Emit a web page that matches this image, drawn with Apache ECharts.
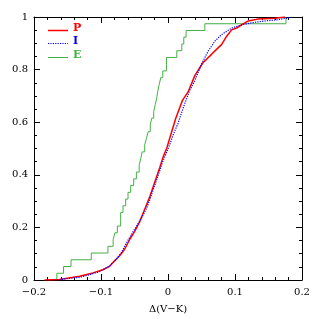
<!DOCTYPE html>
<html><head><meta charset="utf-8">
<script src="https://cdn.jsdelivr.net/npm/echarts@6/dist/echarts.min.js"></script>
<style>html,body{margin:0;padding:0;background:#fff}#c{width:319px;height:319px}</style>
</head><body><div id="c"></div>
<script>
// P sample curve (x = Δ(V−K), y = cumulative fraction)
const P_x = [-0.1843,-0.1619,-0.1320,-0.1121,-0.0971,-0.0871,-0.0796,-0.0722,-0.0647,-0.0572,-0.0497,-0.0422,-0.0373,-0.0322,-0.0273,-0.0224,-0.0173,-0.0123,-0.0070,-0.0020,0.0027,0.0116,0.0216,0.0300,0.0400,0.0524,0.0575,0.0650,0.0724,0.0799,0.0874,0.0949,0.1024,0.1098,0.1197,0.1347,0.1596,0.1746];
const P_y = [0,0.002,0.014,0.027,0.039,0.052,0.073,0.092,0.117,0.154,0.185,0.222,0.253,0.285,0.316,0.353,0.391,0.428,0.470,0.500,0.540,0.615,0.683,0.715,0.777,0.827,0.839,0.858,0.877,0.895,0.926,0.951,0.958,0.970,0.985,0.992,0.995,1.0];
// I sample curve
const I_x = [-0.1693,-0.1320,-0.1170,-0.1021,-0.0871,-0.0771,-0.0696,-0.0621,-0.0547,-0.0472,-0.0397,-0.0322,-0.0273,-0.0224,-0.0173,-0.0123,-0.0074,-0.0023,0.0027,0.0071,0.0150,0.0250,0.0325,0.0400,0.0500,0.0599,0.0699,0.0799,0.0949,0.1098,0.1297,0.1447,0.1622,0.178,0.187];
const I_y = [0,0.010,0.020,0.032,0.054,0.079,0.104,0.141,0.173,0.204,0.235,0.272,0.304,0.341,0.378,0.416,0.453,0.484,0.515,0.548,0.596,0.671,0.721,0.758,0.821,0.870,0.908,0.933,0.958,0.970,0.980,0.985,0.989,0.996,1.0];
// E sample: sorted Δ(V−K) values (empirical CDF steps)
const E_vals = [-0.1659,-0.1559,-0.1447,-0.1145,-0.0896,-0.0819,-0.0792,-0.0756,-0.0707,-0.0707,-0.0672,-0.0632,-0.0597,-0.0557,-0.0512,-0.0472,-0.0430,-0.0407,-0.0385,-0.0348,-0.0322,-0.0295,-0.0265,-0.0243,-0.0213,-0.0191,-0.0168,-0.0153,-0.0131,-0.0108,-0.0078,-0.0023,-0.0023,0.0131,0.0206,0.0236,0.0270,0.0550,0.1761];
const seriesNames = ['P','I','E'];
const seriesColors = ['#ff0000','#0000ff','#44b044'];
const xAxisName = 'Δ(V−K)';

const pData = P_x.map((x,i)=>[x,P_y[i]]);
const iData = I_x.map((x,i)=>[x,I_y[i]]);
const N = E_vals.length;
const eData = [[E_vals[0],0]].concat(E_vals.map((x,i)=>[x,(i+1)/N]));

const font = 'DejaVu Serif';
const fmtX = v => (Math.abs(v)<1e-9?'0':String(+v.toFixed(1))).replace('-','\u2212');
const axisCommon = {
  axisLine:{show:true,onZero:false,lineStyle:{color:'#000',width:1}},
  splitLine:{show:false},
};
const chart = echarts.init(document.getElementById('c'),null,{renderer:'canvas'});
chart.setOption({
  animation:false,
  backgroundColor:'#fff',
  grid:{left:34,top:17,width:268,height:268,containLabel:false},
  xAxis:[
    Object.assign({type:'value',position:'bottom',min:-0.2,max:0.2,interval:0.1,
      name:xAxisName,nameLocation:'middle',nameGap:24,
      nameTextStyle:{fontFamily:font,fontSize:10,color:'#000'},
      axisTick:{inside:true,length:6,lineStyle:{color:'#000'}},
      minorTick:{show:true,splitNumber:5,length:3,lineStyle:{color:'#000'}},
      axisLabel:{formatter:fmtX,fontFamily:font,fontSize:10,color:'#000',margin:7}},axisCommon),
    Object.assign({type:'value',position:'top',min:-0.2,max:0.2,interval:0.1,
      axisTick:{inside:true,length:6,lineStyle:{color:'#000'}},
      minorTick:{show:true,splitNumber:5,length:3,lineStyle:{color:'#000'}},
      axisLabel:{show:false}},axisCommon)
  ],
  yAxis:[
    Object.assign({type:'value',position:'left',min:0,max:1,interval:0.2,
      axisTick:{inside:true,length:6,lineStyle:{color:'#000'}},
      minorTick:{show:true,splitNumber:4,length:3,lineStyle:{color:'#000'}},
      axisLabel:{fontFamily:font,fontSize:10,color:'#000',margin:6}},axisCommon),
    Object.assign({type:'value',position:'right',min:0,max:1,interval:0.2,
      axisTick:{inside:true,length:6,lineStyle:{color:'#000'}},
      minorTick:{show:true,splitNumber:4,length:3,lineStyle:{color:'#000'}},
      axisLabel:{show:false}},axisCommon)
  ],
  series:[
    {name:seriesNames[2],type:'line',data:eData,step:'end',symbol:'none',
      lineStyle:{color:seriesColors[2],width:1},z:2},
    {name:seriesNames[0],type:'line',data:pData,symbol:'none',
      lineStyle:{color:seriesColors[0],width:1.5},z:3},
    {name:seriesNames[1],type:'line',data:iData,symbol:'none',
      lineStyle:{color:seriesColors[1],width:1.2,type:[1.2,1.2]},z:4}
  ],
  graphic:[
    {type:'line',shape:{x1:48,y1:30.5,x2:68,y2:30.5},style:{stroke:seriesColors[0],lineWidth:1.5}},
    {type:'line',shape:{x1:48,y1:43.5,x2:68,y2:43.5},style:{stroke:seriesColors[1],lineWidth:1.2,lineDash:[1.2,1.2]}},
    {type:'line',shape:{x1:48,y1:57.5,x2:68,y2:57.5},style:{stroke:seriesColors[2],lineWidth:1}},
    {type:'text',left:73,top:23,style:{text:seriesNames[0],fill:seriesColors[0],font:'bold 11px "DejaVu Serif"'}},
    {type:'text',left:73,top:36,style:{text:seriesNames[1],fill:seriesColors[1],font:'bold 11px "DejaVu Serif"'}},
    {type:'text',left:73,top:50,style:{text:seriesNames[2],fill:seriesColors[2],font:'bold 11px "DejaVu Serif"'}}
  ]
});
</script></body></html>
